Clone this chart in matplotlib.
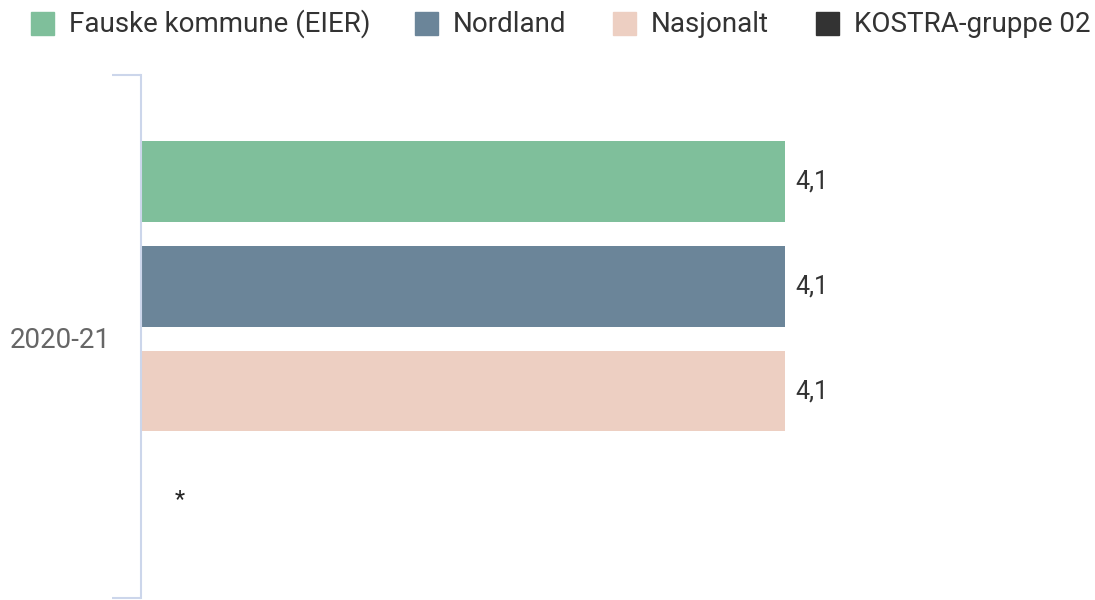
import matplotlib.pyplot as plt
from matplotlib.patches import Rectangle

plt.rcParams['font.family'] = ['Roboto', 'DejaVu Sans']

category = '2020-21'
series = ['Fauske kommune (EIER)', 'Nordland', 'Nasjonalt', 'KOSTRA-gruppe 02']
values = [4.1, 4.1, 4.1, None]
colors = ['#7fbf9b', '#6b8599', '#edcfc2', '#333333']

W, H = 1095, 600
fig = plt.figure(figsize=(W / 100, H / 100), dpi=100)
ax = fig.add_axes([141 / W, 2 / H, (1083 - 141) / W, (598 - 75) / H])

for i, (v, c) in enumerate(zip(values, colors)):
    if v is None:
        # missing value marker
        ax.annotate('*', (0, i), xytext=(39, -4), textcoords='offset pixels',
                    ha='center', va='center', fontsize=17, color='#222222')
        continue
    ax.barh(i, v, height=0.77, color=c, linewidth=0)
    ax.annotate(f'{v:.1f}'.replace('.', ','), (v, i), xytext=(11, 0), textcoords='offset pixels',
                ha='left', va='center', fontsize=18, color='#333333')

ax.set_xlim(0, 6)
ax.set_ylim(3.975, -1.015)
for s in ['top', 'right', 'bottom']:
    ax.spines[s].set_visible(False)
ax.spines['left'].set_color('#ccd6eb')
ax.spines['left'].set_linewidth(1.5)
ax.set_xticks([])
ax.set_yticks([-1.015, 3.975])
ax.set_yticklabels([])
ax.tick_params(axis='y', length=21, color='#ccd6eb', width=1.5)
fig.text(111 / W, 1 - 340 / H, category, ha='right', va='center', fontsize=20, color='#666666')

# legend
leg_x = [31, 415, 613, 816]
for x, name, c in zip(leg_x, series, colors):
    fig.add_artist(Rectangle((x / W, 1 - 35 / H), 23 / W, 23 / H, color=c, transform=fig.transFigure))
    fig.text((x + 38) / W, 1 - 24 / H, name, ha='left', va='center', fontsize=20, color='#333333')

fig.savefig('out.png', dpi=100)
